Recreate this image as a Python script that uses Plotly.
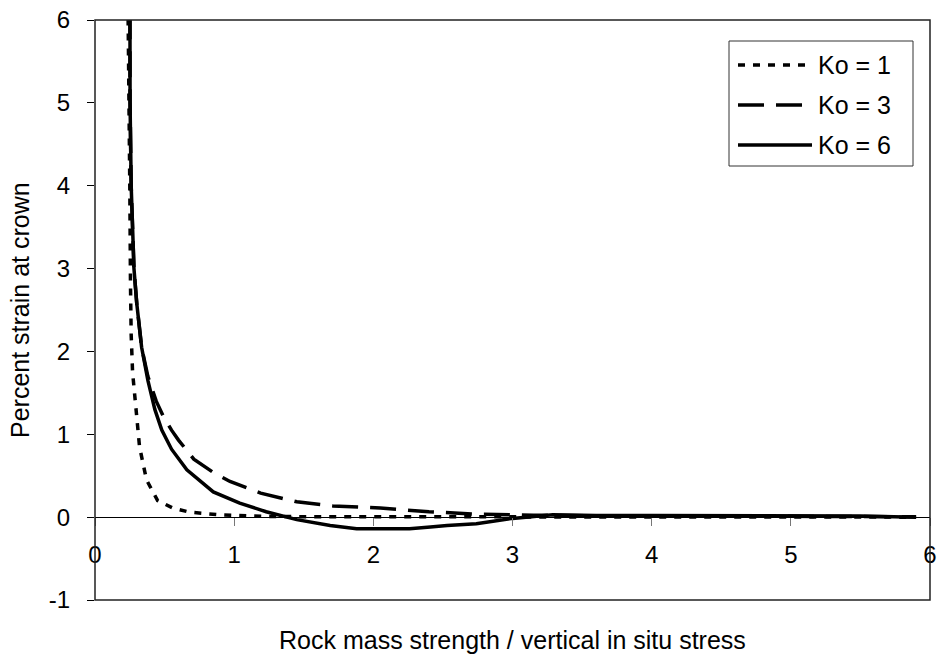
import plotly.graph_objects as go

# Data
x_ko1 = [0.237, 0.242, 0.25, 0.255, 0.26, 0.27, 0.285, 0.30, 0.32, 0.37, 0.45, 0.56, 0.68, 0.88, 1.0, 1.2, 1.5, 2.0, 3.0, 4.0, 5.0, 5.9]
y_ko1 = [6.2, 5.5, 4.0, 2.8, 2.2, 1.75, 1.5, 1.25, 0.85, 0.45, 0.20, 0.11, 0.06, 0.03, 0.02, 0.01, 0.005, 0.005, 0.0, 0.0, 0.0, 0.0]

x_ko3 = [0.25, 0.252, 0.26, 0.28, 0.30, 0.335, 0.38, 0.44, 0.49, 0.55, 0.60, 0.71, 0.85, 0.97, 1.19, 1.45, 1.71, 2.05, 2.40, 2.74, 3.15, 3.50, 4.0, 5.0, 5.9]
y_ko3 = [7.0, 5.0, 4.0, 3.0, 2.58, 2.05, 1.7, 1.4, 1.22, 1.05, 0.93, 0.70, 0.54, 0.43, 0.29, 0.185, 0.135, 0.11, 0.065, 0.036, 0.024, 0.015, 0.01, 0.01, 0.005]

x_ko6 = [0.25, 0.252, 0.26, 0.28, 0.30, 0.335, 0.38, 0.43, 0.48, 0.55, 0.66, 0.85, 1.04, 1.23, 1.45, 1.69, 1.88, 2.26, 2.41, 2.53, 2.74, 3.0, 3.29, 3.6, 4.0, 5.0, 5.5, 5.9]
y_ko6 = [8.0, 5.0, 4.0, 3.0, 2.58, 2.05, 1.65, 1.3, 1.05, 0.82, 0.57, 0.305, 0.17, 0.065, -0.03, -0.10, -0.14, -0.14, -0.12, -0.10, -0.08, -0.015, 0.03, 0.02, 0.02, 0.02, 0.015, 0.0]

series_names = ["Ko = 1", "Ko = 3", "Ko = 6"]

x_ticks = [0, 1, 2, 3, 4, 5, 6]
y_ticks = [-1, 0, 1, 2, 3, 4, 5, 6]

FONT = "Liberation Sans, Arial, sans-serif"
DASHES = ["7px,8px", "26px,12px", "solid"]
WIDTH = 3.5

# plot area in pixels (for converting legend placement to paper coords)
L, R, T, B = 95, 930, 20, 600
def px(xp):
    return (xp - L) / (R - L)
def py(yp):
    return (B - yp) / (B - T)

fig = go.Figure()
for xs, ys, nm, d in zip([x_ko1, x_ko3, x_ko6], [y_ko1, y_ko3, y_ko6], series_names, DASHES):
    fig.add_trace(go.Scatter(x=xs, y=ys, mode="lines", name=nm, showlegend=False,
                             line=dict(color="black", width=WIDTH, dash=d)))

shapes = [dict(type="rect", xref="paper", yref="paper", x0=0, x1=1, y0=0, y1=1,
               line=dict(color="#222", width=1.5), layer="above")]
# legend box
shapes.append(dict(type="rect", xref="paper", yref="paper", x0=px(729), x1=px(913),
                   y0=py(166), y1=py(41), line=dict(color="#333", width=1),
                   fillcolor="white", layer="above"))
annotations = [
    dict(text="Rock mass strength / vertical in situ stress", xref="paper", yref="paper",
         x=0.5, y=py(640), xanchor="center", yanchor="middle", showarrow=False,
         font=dict(size=25)),
    dict(text="Percent strain at crown", xref="paper", yref="paper",
         x=px(20), y=0.5, xanchor="center", yanchor="middle", textangle=-90,
         showarrow=False, font=dict(size=25)),
]
for i, (nm, d) in enumerate(zip(series_names, DASHES)):
    yrow = 65 + 40 * i
    shapes.append(dict(type="line", xref="paper", yref="paper", x0=px(738), x1=px(812),
                       y0=py(yrow), y1=py(yrow),
                       line=dict(color="black", width=WIDTH, dash=d), layer="above"))
    annotations.append(dict(text=nm, xref="paper", yref="paper", x=px(816), y=py(yrow),
                            xanchor="left", yanchor="middle", showarrow=False,
                            font=dict(size=25)))

fig.update_layout(
    width=937, height=660,
    margin=dict(l=L, r=937 - R, t=T, b=660 - B, autoexpand=False),
    paper_bgcolor="white", plot_bgcolor="white",
    font=dict(family=FONT, size=24, color="black"),
    showlegend=False,
    xaxis=dict(range=[0, 6], tickvals=x_ticks, ticktext=[str(v) for v in x_ticks],
               anchor="free", position=1/7, showline=True, linecolor="black", linewidth=1,
               ticks="outside", ticklen=8, tickcolor="#777", showgrid=False, zeroline=False,
               ticklabelstandoff=8, tickfont=dict(size=24), automargin=False),
    yaxis=dict(range=[-1, 6], tickvals=y_ticks, ticktext=[str(v) for v in y_ticks],
               showline=False, ticks="outside", ticklen=7, tickcolor="black",
               showgrid=False, zeroline=False, ticklabelstandoff=12, tickfont=dict(size=24),
               automargin=False),
    shapes=shapes,
    annotations=annotations,
)

fig.write_html("out.html", config={"displayModeBar": False},
               post_script="document.body.style.margin='0';document.body.style.padding='0';")
